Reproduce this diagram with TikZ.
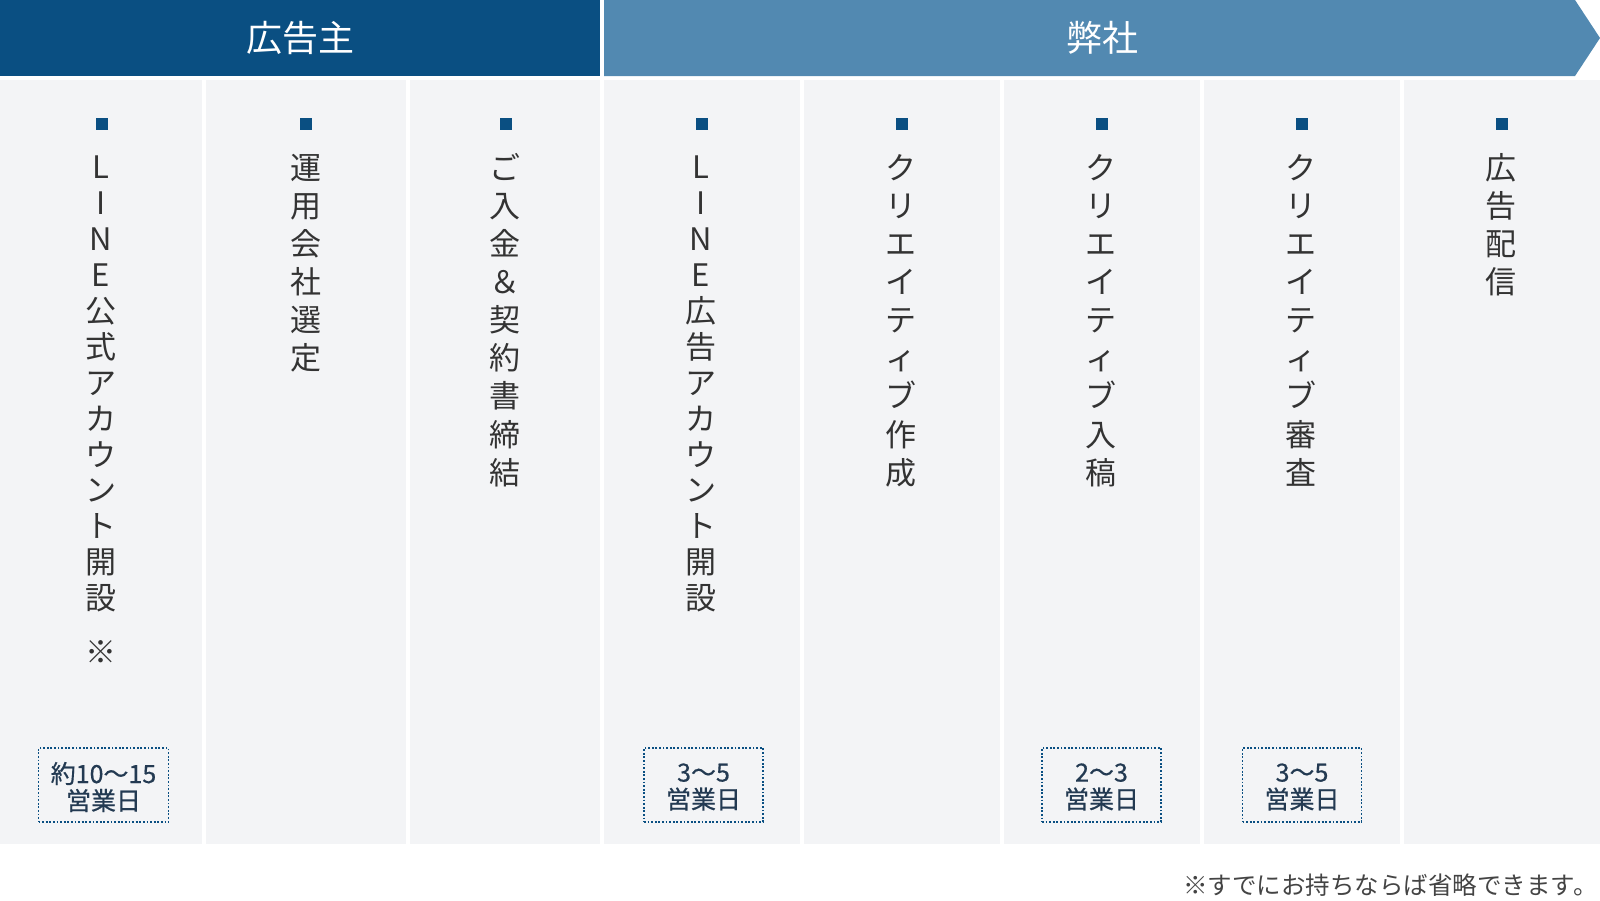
\documentclass[tikz,border=0pt]{standalone}
\usepackage{fontspec}
\newfontfamily\jp{Noto Sans CJK JP}
\newfontfamily\jpm[FakeBold=0.5]{Noto Sans CJK JP}
\definecolor{darkblue}{HTML}{0A4F82}
\definecolor{lightblue}{HTML}{5289B1}
\definecolor{colbg}{HTML}{F3F4F6}
\definecolor{txt}{HTML}{333333}
\definecolor{navy}{HTML}{233A52}
\definecolor{notetxt}{HTML}{444444}
\newcommand{\dn}[1]{\raisebox{-2pt}[\height][\depth]{#1}}
\tikzset{
  vch/.style={font=\jp\fontsize{31}{31}\selectfont, text=txt, inner sep=0pt, text height=27.3pt, text depth=3.7pt, anchor=center},
  hdr/.style={font=\jp\fontsize{36}{36}\selectfont, text=white, inner sep=0pt},
  marker/.style={fill=darkblue, minimum size=12pt, inner sep=0pt},
  daybox/.style={draw=darkblue, line width=1.8pt, dash pattern=on 1.8pt off 1.8pt, minimum height=74pt, align=center, inner sep=0pt, font=\jpm\fontsize{25}{27}\selectfont, text=navy, fill=colbg},
  colbox/.style={fill=colbg, draw=none},
}
\begin{document}
\begin{tikzpicture}[x=1pt,y=-1pt]
\useasboundingbox (0,0) rectangle (1600,900);
\fill[white] (0,0) rectangle (1600,900);
% header
\fill[darkblue] (0,0) rectangle (600,76);
\fill[lightblue] (604,0) -- (1575,0) -- (1600,38) -- (1575,76) -- (604,76) -- cycle;
\node[hdr] (h1) at (300,38) {広告主};
\node[hdr] (h2) at (1102,38) {弊社};
% columns
\fill[colbox] (0,80) rectangle (202,844);
\fill[colbox] (206,80) rectangle (406,844);
\fill[colbox] (410,80) rectangle (600,844);
\fill[colbox] (604,80) rectangle (800,844);
\fill[colbox] (804,80) rectangle (1000,844);
\fill[colbox] (1004,80) rectangle (1200,844);
\fill[colbox] (1204,80) rectangle (1400,844);
\fill[colbox] (1404,80) rectangle (1600,844);
% markers
\foreach \x [count=\k] in {102,306,506,702,902,1102,1302,1502}
  \node[marker] (m\k) at (\x,124) {};
% column texts
\foreach \ch [count=\i] in {L,I,N,E,公,式,ア,カ,ウ,ン,ト,開,設}
  \node[vch] (a1-\i) at (101,{167+(\i-1)*35.9}) {\ch};
\node[vch] (a1-note) at (101,652) {※};
\foreach \ch [count=\i] in {運,用,会,社,選,定}
  \node[vch] (a2-\i) at (306,{167.5+(\i-1)*38.1}) {\ch};
\foreach \ch [count=\i] in {ご,入,金,＆,契,約,書,締,結}
  \node[vch] (a3-\i) at (505,{167.5+(\i-1)*38.1}) {\ch};
\foreach \ch [count=\i] in {L,I,N,E,広,告,ア,カ,ウ,ン,ト,開,設}
  \node[vch] (a4-\i) at (701,{167+(\i-1)*35.9}) {\ch};
\foreach \ch [count=\i] in {ク,リ,エ,イ,テ,ィ,ブ,作,成}
  \node[vch] (a5-\i) at (901,{167.5+(\i-1)*38.1}) {\ch};
\foreach \ch [count=\i] in {ク,リ,エ,イ,テ,ィ,ブ,入,稿}
  \node[vch] (a6-\i) at (1101,{167.5+(\i-1)*38.1}) {\ch};
\foreach \ch [count=\i] in {ク,リ,エ,イ,テ,ィ,ブ,審,査}
  \node[vch] (a7-\i) at (1301,{167.5+(\i-1)*38.1}) {\ch};
\foreach \ch [count=\i] in {広,告,配,信}
  \node[vch] (a8-\i) at (1501,{167.5+(\i-1)*38.1}) {\ch};
% day boxes
\node[daybox, minimum width=130pt] (d1) at (103.5,785) {\dn{約10〜15}\\\dn{営業日}};
\node[daybox, minimum width=119pt] (d4) at (703.5,785) {\dn{3〜5}\\\dn{営業日}};
\node[daybox, minimum width=119pt] (d6) at (1101.5,785) {\dn{2〜3}\\\dn{営業日}};
\node[daybox, minimum width=119pt] (d7) at (1302,785) {\dn{3〜5}\\\dn{営業日}};
% footnote
\node[anchor=west, inner sep=0pt, font=\jp\fontsize{24.5}{24.5}\selectfont, text=notetxt] (fn) at (1183,885) {※すでにお持ちならば省略できます。};
\end{tikzpicture}
\end{document}
